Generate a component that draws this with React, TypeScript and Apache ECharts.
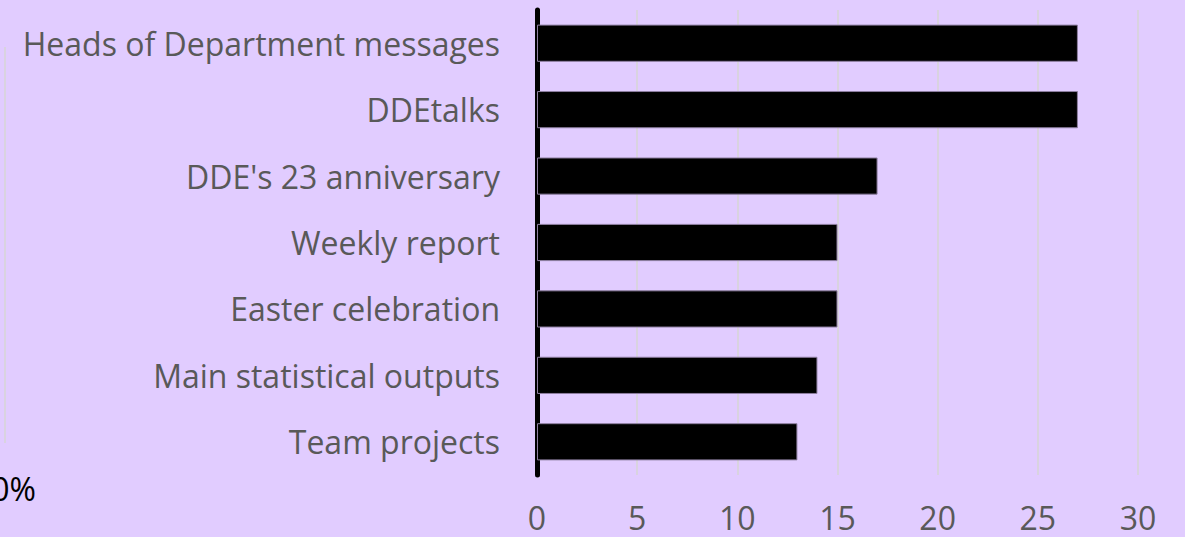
import React, { useEffect, useRef } from "react";
import * as echarts from "echarts";

const categories = [
  "Heads of Department messages",
  "DDEtalks",
  "DDE's 23 anniversary",
  "Weekly report",
  "Easter celebration",
  "Main statistical outputs",
  "Team projects",
];
const values = [27, 27, 17, 15, 15, 14, 13];
const xTicks = [0, 5, 10, 15, 20, 25, 30];

export default function App() {
  const ref = useRef<HTMLDivElement>(null);
  useEffect(() => {
    if (!ref.current) return;
    const chart = echarts.init(ref.current, null, { renderer: "svg" });
    chart.setOption({
      animation: false,
      backgroundColor: "#E1CCFF",
      grid: { left: 537, right: 47, top: 10, bottom: 62, containLabel: false },
      xAxis: {
        type: "value",
        min: xTicks[0],
        max: xTicks[xTicks.length - 1],
        interval: 5,
        axisLine: { show: false },
        axisTick: { show: false },
        axisLabel: {
          color: "#595959",
          fontFamily: "Open Sans",
          fontSize: 32,
          lineHeight: 36,
          margin: 24,
        },
        splitLine: { show: true, lineStyle: { color: "#D6D6D6", width: 1.5 } },
      },
      yAxis: {
        type: "category",
        data: categories,
        inverse: true,
        axisLine: { show: true, lineStyle: { color: "#000", width: 5 } },
        axisTick: { show: false },
        axisLabel: {
          color: "#595959",
          fontFamily: "Open Sans",
          fontSize: 32,
          margin: 37,
        },
        splitLine: { show: false },
      },
      series: [
        {
          type: "bar",
          data: values,
          barWidth: "56%",
          itemStyle: { color: "#000", borderColor: "#8E7FA0", borderWidth: 1 },
        },
      ],
      graphic: [
        {
          type: "line",
          shape: { x1: 5, y1: 47, x2: 5, y2: 443 },
          style: { stroke: "#D6D6D6", lineWidth: 1.5 },
        },
        {
          type: "text",
          right: 1185 - 36,
          top: 472,
          style: {
            text: "0%",
            fill: "#000",
            font: "32px 'Open Sans'",
            textAlign: "right",
          },
        },
      ],
    });
    return () => chart.dispose();
  }, []);
  return <div ref={ref} style={{ width: 1185, height: 537, position: "absolute", left: 0, top: 0 }} />;
}
